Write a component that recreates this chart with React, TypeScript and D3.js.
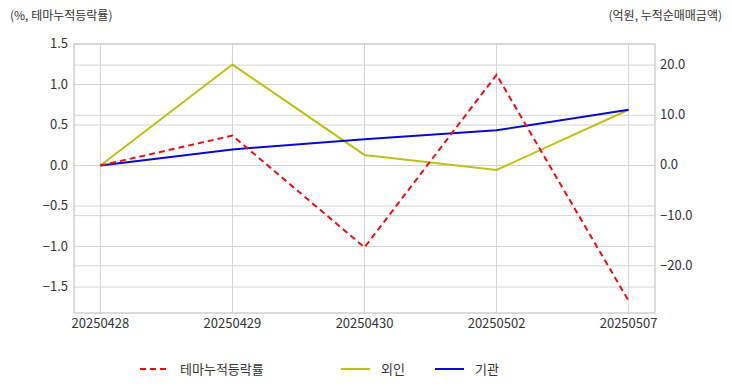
import { useEffect, useRef } from 'react'
import * as d3 from 'd3'

const dates = ['20250428', '20250429', '20250430', '20250502', '20250507']
const themeRate = [0.0, 0.37, -1.01, 1.12, -1.67]
const foreign = [0.0, 20.1, 2.1, -0.9, 11.1]
const institution = [0.0, 3.2, 5.2, 7.0, 11.1]
const leftTicks = [1.5, 1.0, 0.5, 0.0, -0.5, -1.0, -1.5]
const rightTicks = [20, 10, 0, -10, -20]

const FONT = '"Noto Sans CJK KR", "Noto Sans", sans-serif'

export default function App() {
  const svgRef = useRef<SVGSVGElement>(null)

  useEffect(() => {
    if (!svgRef.current) return
    const svg = d3.select(svgRef.current)
    svg.selectAll('*').remove()

    const width = 732
    const height = 392
    const margin = { top: 44, right: 77, bottom: 79, left: 74 }
    const innerW = width - margin.left - margin.right
    const innerH = height - margin.top - margin.bottom

    const g = svg.append('g').attr('transform', `translate(${margin.left},${margin.top})`)

    const x = d3.scalePoint<string>().domain(dates).range([0, innerW]).padding(0.2)
    const yL = d3.scaleLinear().domain([-1.82, 1.5]).range([innerH, 0])
    const yR = d3.scaleLinear().domain([-29.4, 24.2]).range([innerH, 0])

    // gridlines
    leftTicks.forEach(t => {
      g.append('line')
        .attr('x1', 0).attr('x2', innerW)
        .attr('y1', yL(t)).attr('y2', yL(t))
        .attr('stroke', '#d4d4d4')
    })
    rightTicks.forEach(t => {
      g.append('line')
        .attr('x1', 0).attr('x2', innerW)
        .attr('y1', yR(t)).attr('y2', yR(t))
        .attr('stroke', '#d4d4d4')
    })
    dates.forEach(d => {
      g.append('line')
        .attr('x1', x(d)!).attr('x2', x(d)!)
        .attr('y1', 0).attr('y2', innerH)
        .attr('stroke', '#d4d4d4')
    })
    g.append('rect')
      .attr('width', innerW).attr('height', innerH)
      .attr('fill', 'none').attr('stroke', '#cfcfcf').attr('stroke-width', 1.5)

    // tick labels
    leftTicks.forEach(t => {
      g.append('text')
        .attr('x', -6).attr('y', yL(t) + 4)
        .attr('text-anchor', 'end')
        .style('font-family', FONT).style('font-size', '13px').style('fill', '#333')
        .text(d3.format('.1f')(t))
    })
    rightTicks.forEach(t => {
      g.append('text')
        .attr('x', innerW + 5).attr('y', yR(t) + 4)
        .attr('text-anchor', 'start')
        .style('font-family', FONT).style('font-size', '13px').style('fill', '#333')
        .text(d3.format('.1f')(t))
    })
    dates.forEach(d => {
      g.append('text')
        .attr('x', x(d)!).attr('y', innerH + 15)
        .attr('text-anchor', 'middle')
        .style('font-family', FONT).style('font-size', '13px').style('fill', '#333')
        .text(d)
    })

    // axis titles
    svg.append('text')
      .attr('x', 10).attr('y', 20)
      .style('font-family', FONT).style('font-size', '12px').style('fill', '#333')
      .text('(%, 테마누적등락률)')
    svg.append('text')
      .attr('x', 722).attr('y', 20)
      .attr('text-anchor', 'end')
      .style('font-family', FONT).style('font-size', '12px').style('fill', '#333')
      .text('(억원, 누적순매매금액)')

    // series
    const idx = d3.range(dates.length)
    const lineL = d3.line<number>().x(i => x(dates[i])!).y(i => yL(themeRate[i]))
    const lineF = d3.line<number>().x(i => x(dates[i])!).y(i => yR(foreign[i]))
    const lineI = d3.line<number>().x(i => x(dates[i])!).y(i => yR(institution[i]))

    g.append('path').datum(idx).attr('d', lineF)
      .attr('fill', 'none').attr('stroke', '#c0c018').attr('stroke-width', 2)
    g.append('path').datum(idx).attr('d', lineI)
      .attr('fill', 'none').attr('stroke', '#0a0acc').attr('stroke-width', 2)
    g.append('path').datum(idx).attr('d', lineL)
      .attr('fill', 'none').attr('stroke', '#e81010').attr('stroke-width', 2)
      .attr('stroke-dasharray', '6,4')

    // legend
    const legend = svg.append('g').attr('transform', 'translate(0,369)')
    const items = [
      { label: '테마누적등락률', color: '#e81010', dash: '6,4', x: 140 },
      { label: '외인', color: '#c0c018', dash: null, x: 341 },
      { label: '기관', color: '#0a0acc', dash: null, x: 435 },
    ]
    items.forEach(it => {
      legend.append('line')
        .attr('x1', it.x).attr('x2', it.x + 29)
        .attr('y1', 0).attr('y2', 0)
        .attr('stroke', it.color).attr('stroke-width', 2)
        .attr('stroke-dasharray', it.dash)
      legend.append('text')
        .attr('x', it.x + 40).attr('y', 5)
        .style('font-family', FONT).style('font-size', '13px').style('fill', '#333')
        .text(it.label)
    })
  }, [])

  return (
    <div style={{ position: 'absolute', left: 0, top: 0 }}>
      <svg ref={svgRef} width={732} height={392} style={{ display: 'block', background: '#fff' }} />
    </div>
  )
}
